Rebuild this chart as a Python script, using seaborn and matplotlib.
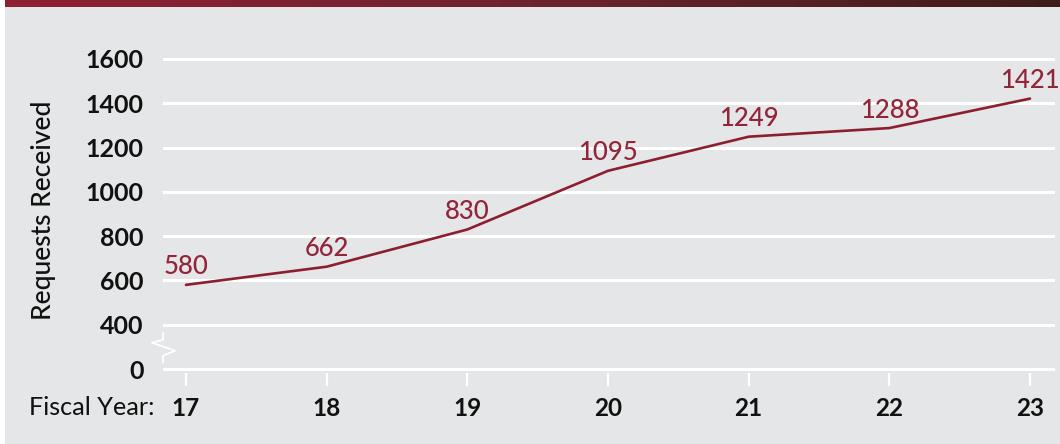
import matplotlib
matplotlib.use("Agg")
import matplotlib.pyplot as plt
import matplotlib.transforms as mtransforms
from matplotlib.patches import Rectangle
from matplotlib.colors import LinearSegmentedColormap
import numpy as np
import pandas as pd
import seaborn as sns

# ---- data ----
years = [17, 18, 19, 20, 21, 22, 23]
requests = [580, 662, 830, 1095, 1249, 1288, 1421]
ytick_values = [0, 400, 600, 800, 1000, 1200, 1400, 1600]
ytick_labels = ["0", "400", "600", "800", "1000", "1200", "1400", "1600"]

# broken axis: real 0 is drawn where 200 would be
def to_display(v):
    return 200 if v == 0 else v

df = pd.DataFrame({"year": years, "requests": requests})

sns.set_theme(style="white")
plt.rcParams["font.family"] = ["Lato", "DejaVu Sans"]

W, H = 1060, 444
fig = plt.figure(figsize=(W / 100, H / 100), dpi=100)
fig.patch.set_facecolor("white")

BG = "#e5e6e7"
LINE = "#8c1e30"
LABEL = "#93253a"
TXT = "#111111"

# background panel + top gradient bar
fig.add_artist(Rectangle((5 / W, 0), 1 - 5 / W, 1, transform=fig.transFigure,
                         facecolor=BG, edgecolor="none", zorder=-10))
grad_ax = fig.add_axes([5 / W, 1 - 7 / H, 1 - 5 / W, 7 / H])
grad = np.linspace(0, 1, 512).reshape(1, -1)
cmap = LinearSegmentedColormap.from_list("bar", ["#8f2033", "#6e2430", "#3e1c1c"])
grad_ax.imshow(grad, aspect="auto", cmap=cmap)
grad_ax.set_axis_off()

# main axes geometry (pixel based)
px_per_unit = (325 - 59) / 1200.0
y_bottom_val = 180
y_top_val = 1600 + (59 - 30) / px_per_unit
bottom_px = 369 + (200 - y_bottom_val) * px_per_unit
top_px = 30
x_left_px, x_right_px = 163, 1055
px_per_year = (1030 - 186) / 6.0
xmin = 17 - (186 - x_left_px) / px_per_year
xmax = 23 + (x_right_px - 1030) / px_per_year

ax = fig.add_axes([x_left_px / W, 1 - bottom_px / H,
                   (x_right_px - x_left_px) / W, (bottom_px - top_px) / H])
ax.set_facecolor("none")

sns.lineplot(data=df, x="year", y="requests", ax=ax, color=LINE, linewidth=1.9,
             zorder=5)

for x, v in zip(years, requests):
    ax.annotate(str(v), (x, v), xytext=(0, 4), textcoords="offset points",
                ha="center", va="bottom", color=LABEL, fontsize=18.5,
                fontweight="medium", zorder=6)

ax.set_xlim(xmin, xmax)
ax.set_ylim(y_bottom_val, y_top_val)

disp_ticks = [to_display(v) for v in ytick_values]
ax.set_yticks(disp_ticks)
ax.set_yticklabels(ytick_labels)
ax.set_xticks(years)
ax.set_xticklabels([str(y) for y in years])

for yv in disp_ticks:
    ax.axhline(yv, color="white", linewidth=2.2, zorder=1)

for s in ax.spines.values():
    s.set_visible(False)

ax.tick_params(axis="y", left=False, length=0, pad=14, labelsize=18,
               labelcolor=TXT)
ax.tick_params(axis="x", bottom=True, direction="out", length=9, width=1.6,
               color="white", pad=8, labelsize=17.5, labelcolor=TXT)
for lab in ax.get_yticklabels() + ax.get_xticklabels():
    lab.set_fontweight("bold")
ax.set_xlabel("")
ax.set_ylabel("Requests Received", fontsize=19, fontweight="medium", color=TXT)
ax.yaxis.set_label_coords(-(163 - 56) / (x_right_px - x_left_px),
                          (bottom_px - 210) / (bottom_px - top_px))

# "Fiscal Year:" label on the tick-label row
fig.text(92 / W, 1 - 407 / H, "Fiscal Year:", ha="center", va="center",
         fontsize=18.2, color=TXT)

# axis break zigzag between 0 and 400
tr = mtransforms.blended_transform_factory(ax.transAxes, ax.transData)
fx = 1.0 / (x_right_px - x_left_px)
zz_x = [0, 0, -11 * fx, 12 * fx, 0, 0]
zz_y = [400 - 8 / px_per_unit, 400 - 15 / px_per_unit, 400 - 18 / px_per_unit,
        400 - 26 / px_per_unit, 400 - 31 / px_per_unit, 400 - 38 / px_per_unit]
ax.plot(zz_x, zz_y, transform=tr, color="white", linewidth=1.3, clip_on=False)

fig.savefig("out.png", dpi=100, facecolor=fig.get_facecolor())
